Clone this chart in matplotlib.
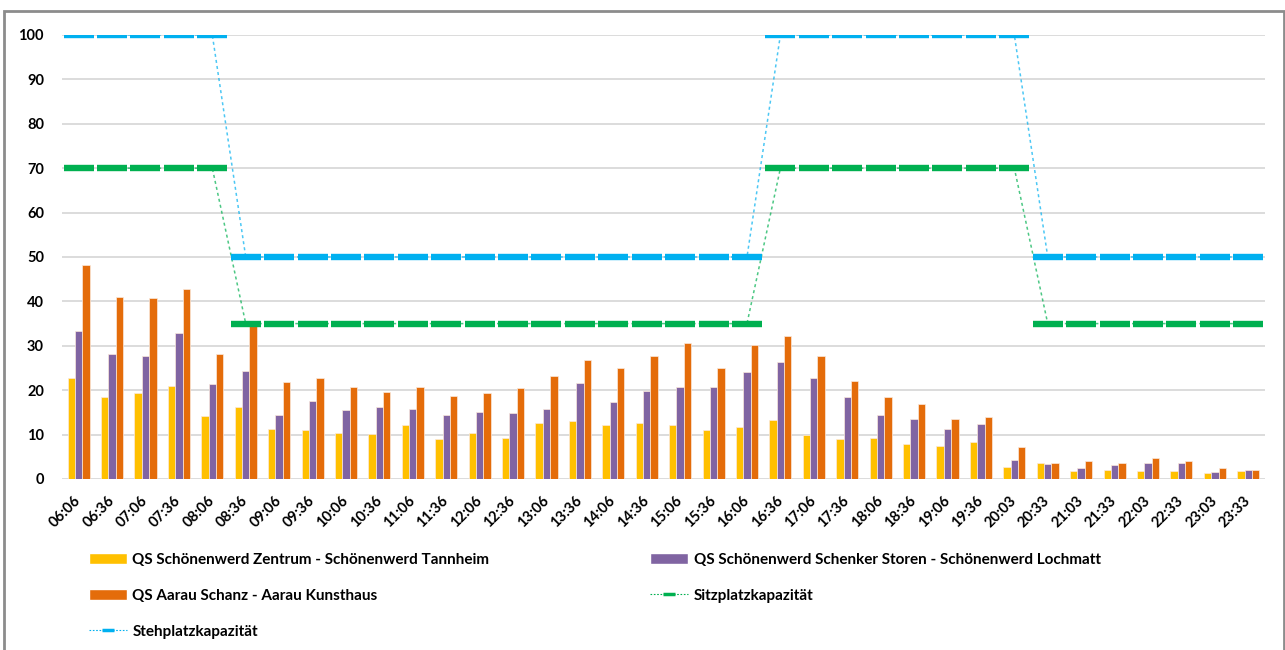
import matplotlib
matplotlib.use("Agg")
import matplotlib.pyplot as plt
from matplotlib.lines import Line2D
from matplotlib.patches import Patch, Rectangle
import numpy as np

plt.rcParams['font.family'] = ['Lato', 'DejaVu Sans']

zeiten = ["06:06", "06:36", "07:06", "07:36", "08:06", "08:36", "09:06", "09:36",
          "10:06", "10:36", "11:06", "11:36", "12:06", "12:36", "13:06", "13:36",
          "14:06", "14:36", "15:06", "15:36", "16:06", "16:36", "17:06", "17:36",
          "18:06", "18:36", "19:06", "19:36", "20:03", "20:33", "21:03", "21:33",
          "22:03", "22:33", "23:03", "23:33"]

zentrum_tannheim = [22.8, 18.4, 19.3, 21.0, 14.1, 16.1, 11.3, 11.0, 10.3, 10.1, 12.1, 9.0,
                    10.3, 9.3, 12.5, 13.1, 12.1, 12.5, 12.1, 11.0, 11.6, 13.3, 10.0, 9.0,
                    9.3, 7.8, 7.5, 8.3, 2.8, 3.7, 1.8, 2.0, 1.8, 1.8, 1.3, 1.8]
schenker_lochmatt = [33.4, 28.1, 27.6, 32.9, 21.3, 24.3, 14.3, 17.6, 15.6, 16.3, 15.8, 14.3,
                     15.1, 14.9, 15.8, 21.6, 17.3, 19.9, 20.8, 20.8, 24.1, 26.3, 22.8, 18.4,
                     14.3, 13.6, 11.3, 12.3, 4.3, 3.4, 2.5, 3.1, 3.5, 3.7, 1.5, 2.0]
schanz_kunsthaus = [48.1, 40.9, 40.7, 42.7, 28.1, 34.5, 21.9, 22.8, 20.8, 19.6, 20.8, 18.6,
                    19.3, 20.4, 23.1, 26.9, 24.9, 27.6, 30.6, 24.9, 30.1, 32.1, 27.8, 22.1,
                    18.4, 16.8, 13.6, 14.0, 7.3, 3.7, 4.0, 3.7, 4.8, 4.0, 2.5, 2.0]
sitzplatz = [70, 70, 70, 70, 70, 35, 35, 35, 35, 35, 35, 35, 35, 35, 35, 35, 35, 35,
             35, 35, 35, 70, 70, 70, 70, 70, 70, 70, 70, 35, 35, 35, 35, 35, 35, 35]
stehplatz = [100, 100, 100, 100, 100, 50, 50, 50, 50, 50, 50, 50, 50, 50, 50, 50, 50, 50,
             50, 50, 50, 100, 100, 100, 100, 100, 100, 100, 100, 50, 50, 50, 50, 50, 50, 50]

namen = ["QS Schönenwerd Zentrum - Schönenwerd Tannheim",
         "QS Schönenwerd Schenker Storen - Schönenwerd Lochmatt",
         "QS Aarau Schanz - Aarau Kunsthaus",
         "Sitzplatzkapazität",
         "Stehplatzkapazität"]

GELB, LILA, ORANGE = "#FFC000", "#8064A2", "#E46C0A"
GRUEN, BLAU = "#00B050", "#00B0F0"

fig = plt.figure(figsize=(12.85, 6.5), dpi=100)
ax = fig.add_axes([0.0482, 0.2631, 0.9362, 0.6831])

x = np.arange(len(zeiten))
b = 0.22
for off, werte, farbe in [(-b, zentrum_tannheim, GELB), (0, schenker_lochmatt, LILA),
                          (b, schanz_kunsthaus, ORANGE)]:
    ax.bar(x + off, werte, width=b, color=farbe, edgecolor="#fbe9dc", linewidth=0.5, zorder=2)

for werte, farbe in [(sitzplatz, GRUEN), (stehplatz, BLAU)]:
    ax.plot(x, werte, color=farbe, linestyle=(0, (2, 2)), linewidth=1.1, alpha=0.7, zorder=3)
    ax.plot(x, werte, linestyle="none", marker="_", markersize=21.5, markeredgewidth=4.6,
            color=farbe, zorder=4)

ax.set_xlim(-0.5, len(zeiten) - 0.5)
ax.set_ylim(0, 100)
ax.set_yticks(range(0, 101, 10))
ax.grid(axis="y", color="#d9d9d9", linewidth=1.3, zorder=0)
ax.set_axisbelow(True)
for s in ax.spines.values():
    s.set_visible(False)
ax.tick_params(length=0)
ax.tick_params(axis="y", pad=13, labelsize=10.5)
ax.set_xticks(x)
ax.set_xticklabels(zeiten, rotation=45, ha="right", va="center", rotation_mode="anchor",
                   fontsize=10.5)
ax.tick_params(axis="x", pad=14)
for t in ax.get_xticklabels() + ax.get_yticklabels():
    t.set_fontweight("bold")

# Legende in zwei Spalten wie im Original
h_gelb = Patch(facecolor=GELB, edgecolor="white")
h_lila = Patch(facecolor=LILA, edgecolor="white")
h_orange = Patch(facecolor=ORANGE, edgecolor="white")
h_sitz = Line2D([], [], color=GRUEN, linestyle=(0, (1.5, 1.5)), linewidth=0.8,
                marker="_", markersize=8, markeredgewidth=2.5)
h_steh = Line2D([], [], color=BLAU, linestyle=(0, (1.5, 1.5)), linewidth=0.8,
                marker="_", markersize=8, markeredgewidth=2.5)

opts = dict(loc="upper left", frameon=False, handlelength=2.5, handleheight=0.75,
            handletextpad=0.35, labelspacing=1.45, borderaxespad=0, borderpad=0,
            prop={"weight": "bold", "size": 11})
leg1 = fig.legend([h_gelb, h_orange, h_steh], [namen[0], namen[2], namen[4]],
                  bbox_to_anchor=(0.069, 0.150), **opts)
leg2 = fig.legend([h_lila, h_sitz], [namen[1], namen[3]],
                  bbox_to_anchor=(0.506, 0.150), **opts)

fig.add_artist(Rectangle((0.0031, -0.02), 0.9961, 1.003, transform=fig.transFigure,
                         fill=False, edgecolor="#8c8c8c", linewidth=2))

fig.savefig("out.png", dpi=100)
